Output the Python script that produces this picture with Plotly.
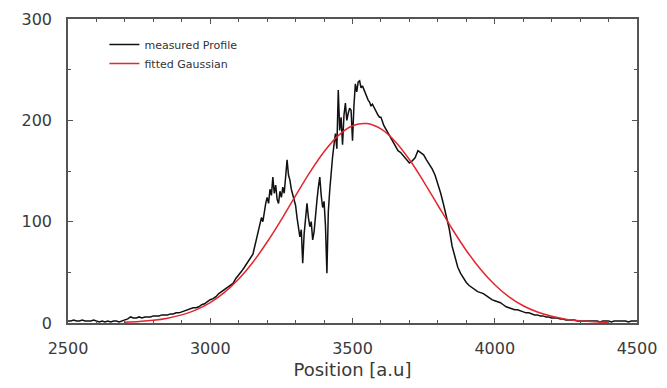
import plotly.graph_objects as go

# ---------------- data ----------------
pos_a = list(range(2500, 3150, 10))
meas_a = [2, 2, 3, 2, 2, 3, 2, 2, 2, 3,
          2, 1, 2, 1, 2, 1, 2, 2, 1, 2,
          3, 4, 6, 5, 5, 6, 5, 6, 6, 6,
          7, 7, 7, 8, 8, 8, 9, 9, 10, 10,
          11, 12, 13, 14, 15, 15, 16, 18, 19, 21,
          23, 24, 26, 29, 31, 33, 35, 37, 39, 44,
          47, 51, 55, 59, 64]

pos_b = list(range(3150, 3600, 5))
meas_b = [68, 74, 80, 85, 92, 98, 104, 100, 112, 118,
          124, 118, 132, 126, 144, 128, 136, 122, 118, 130,
          124, 134, 128, 150, 161, 146, 141, 132, 126, 120,
          116, 104, 96, 85, 92, 59, 88, 102, 118, 104,
          95, 100, 82, 90, 108, 121, 134, 144, 126, 114,
          120, 96, 49, 110, 131, 150, 164, 176, 187, 172,
          230, 190, 203, 176, 205, 217, 200, 207, 212, 210,
          180, 214, 236, 228, 238, 239, 232, 234, 230, 226,
          222, 220, 218, 214, 216, 213, 210, 208, 205, 203]

pos_c = list(range(3600, 4510, 10))
meas_c = [203, 195, 190, 186, 180, 176, 170, 168, 165, 161,
          158, 160, 163, 170, 168, 166, 161, 157, 152, 146,
          138, 128, 117, 106, 93, 76, 64, 55, 49, 44,
          40, 37, 35, 33, 31, 30, 29, 27, 25, 23,
          22, 21, 20, 18, 16, 15, 14, 13, 13, 12,
          11, 10, 10, 9, 8, 8, 7, 7, 6, 6,
          5, 5, 5, 4, 4, 3, 3, 3, 3, 2,
          2, 2, 2, 2, 2, 2, 2, 1, 2, 2,
          2, 1, 2, 2, 2, 2, 2, 1, 2, 2,
          2]

measured_pos = pos_a + pos_b + pos_c
measured_val = meas_a + meas_b + meas_c

fit_pos = list(range(2700, 4450, 50))
fit_val = [0.8, 1.5, 2.7, 4.8, 8.0, 13.0, 20.2, 30.2, 43.4, 60.0,
           79.9, 102.1, 125.6, 148.6, 169.0, 184.9, 194.6, 196.8, 191.5, 179.2,
           161.3, 139.6, 116.2, 93.0, 71.6, 53.0, 37.7, 25.8, 17.0, 10.8,
           6.6, 3.8, 2.2, 1.2, 0.6]

x_ticks = [2500, 3000, 3500, 4000, 4500]
y_ticks = [0, 100, 200, 300]

series_names = ["measured Profile", "fitted Gaussian"]
x_title = "Position [a.u]"

# ---------------- figure ----------------
FONT = "DejaVu Sans, sans-serif"
TXT = "#3a3a3a"
fig = go.Figure()
fig.add_trace(go.Scatter(x=measured_pos, y=measured_val, mode="lines",
                         name=series_names[0],
                         line=dict(color="#111111", width=1.5)))
fig.add_trace(go.Scatter(x=fit_pos, y=fit_val, mode="lines",
                         name=series_names[1], line_shape="spline",
                         line=dict(color="#e3262f", width=1.5)))

axis_common = dict(showgrid=False, zeroline=False, showline=True,
                   automargin=False,
                   linecolor="#555555", linewidth=1.6, mirror="ticks",
                   ticks="inside", ticklen=5, tickwidth=1, tickcolor="#555555",
                   tickfont=dict(family=FONT, size=16, color=TXT))

fig.update_xaxes(range=[2500, 4500], tickvals=x_ticks,
                 ticktext=[str(v) for v in x_ticks],
                 minor=dict(ticks="inside", ticklen=3, dtick=100,
                            tick0=2500, tickcolor="#555555"),
                 ticklabelstandoff=10,
                 title=dict(text=x_title, standoff=12,
                            font=dict(family=FONT, size=18, color=TXT)),
                 **axis_common)
fig.update_yaxes(range=[0, 300], tickvals=y_ticks,
                 ticktext=[str(v) for v in y_ticks],
                 minor=dict(ticks="inside", ticklen=3, dtick=50,
                            tick0=0, tickcolor="#555555"),
                 ticklabelstandoff=11,
                 **axis_common)

# the page body adds an 8px offset; size the figure so the plot area
# lands at x 68..637, y 19..323 of the 667x388 window
fig.update_layout(
    template="none",
    width=651, height=372,
    margin=dict(l=60, r=22, t=11, b=57),
    paper_bgcolor="white", plot_bgcolor="white",
    showlegend=True,
    legend=dict(x=0.064, y=0.964, xanchor="left", yanchor="top",
                bgcolor="rgba(0,0,0,0)", tracegroupgap=0,
                font=dict(family=FONT, size=11, color="#333333")),
)

fig.write_html("out.html")
